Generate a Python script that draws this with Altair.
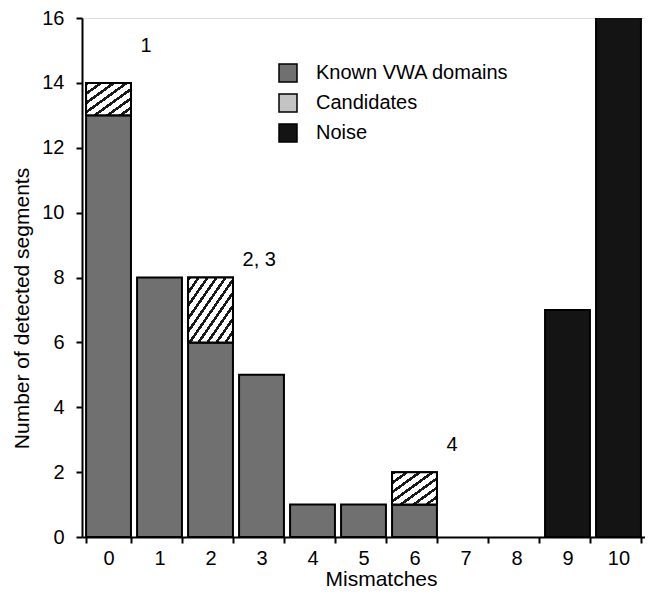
import altair as alt
import pandas as pd

mismatches = [0, 1, 2, 3, 4, 5, 6, 7, 8, 9, 10]
known = [13, 8, 6, 5, 1, 1, 1, 0, 0, 0, 0]
candidates = [1, 0, 2, 0, 0, 0, 1, 0, 0, 0, 0]
noise = [0, 0, 0, 0, 0, 0, 0, 0, 0, 7, 17]

ann_text = ["1", "2, 3", "4"]
ann_x = [0, 2, 6]
ann_y = [15.14, 8.54, 2.83]

types = ["Known VWA domains", "Candidates", "Noise"]
colors = ["#707070", "#c4c4c4", "#141414"]

rows = []
for m, k, c, n in zip(mismatches, known, candidates, noise):
    if k > 0:
        rows.append({"m": str(m), "type": types[0], "y0": 0, "y1": k, "h": k})
    if c > 0:
        rows.append({"m": str(m), "type": types[1], "y0": k, "y1": k + c, "h": c})
    if n > 0:
        rows.append({"m": str(m), "type": types[2], "y0": 0, "y1": n, "h": n})
df = pd.DataFrame(rows)
ann = pd.DataFrame({"m": [str(v) for v in ann_x], "y": ann_y, "t": ann_text})

FONT = "Liberation Sans"
FS = 20
cats = [str(v) for v in mismatches]

xenc = alt.X("m:O", sort=cats, scale=alt.Scale(domain=cats, paddingInner=0.12, paddingOuter=0.08),
             axis=alt.Axis(title="Mismatches", labelAngle=0, tickBand="extent", tickSize=6,
                           tickWidth=2, domainWidth=2, domainColor="black", tickColor="black",
                           labelFontSize=FS, labelPadding=5, titleFontSize=21,
                           titlePadding=0, titleX=299, titleFontWeight="normal",
                           labelColor="black", titleColor="black", grid=False))
yscale = alt.Scale(domain=[0, 16], nice=False)
yaxis = alt.Axis(title="Number of detected segments", values=list(range(17)),
                 labelExpr="datum.value % 2 == 0 ? datum.label : ''",
                 tickSize=6, tickWidth=2, domainWidth=2, domainColor="black", tickColor="black",
                 labelFontSize=FS, labelPadding=12, titleFontSize=21, titlePadding=9,
                 titleY=290, titleFontWeight="normal", labelColor="black",
                 titleColor="black", grid=False)

bars = alt.Chart(df).mark_bar(stroke="black", strokeWidth=2, clip=True).encode(
    x=xenc,
    y=alt.Y("y0:Q", scale=yscale, axis=yaxis),
    y2="y1:Q",
    color=alt.Color("type:N", scale=alt.Scale(domain=types, range=colors),
                    legend=alt.Legend(title=None, orient="none", legendX=196, legendY=45,
                                      symbolType="square", symbolSize=324,
                                      symbolStrokeColor="black", symbolStrokeWidth=1.5,
                                      labelFontSize=FS, labelOffset=18, rowPadding=6,
                                      labelLimit=400, labelColor="black", padding=0)),
)


def hatch(n):
    stops = []
    for i in range(n):
        a = i / n
        b = (i + 0.35) / n
        e = (i + 1) / n
        stops += [{"offset": a, "color": "#1a1a1a"}, {"offset": b, "color": "#1a1a1a"},
                  {"offset": b, "color": "#ffffff"}, {"offset": e, "color": "#ffffff"}]
    return {"gradient": "linear", "x1": 0, "y1": 0, "x2": 1, "y2": 1, "stops": stops}


hatch1 = alt.Chart(df).transform_filter(
    (alt.datum.type == types[1]) & (alt.datum.h == 1)
).mark_bar(fill=hatch(7), stroke="black", strokeWidth=2).encode(
    x=alt.X("m:O", sort=cats), y=alt.Y("y0:Q", scale=yscale), y2="y1:Q")

hatch2 = alt.Chart(df).transform_filter(
    (alt.datum.type == types[1]) & (alt.datum.h == 2)
).mark_bar(fill=hatch(10), stroke="black", strokeWidth=2).encode(
    x=alt.X("m:O", sort=cats), y=alt.Y("y0:Q", scale=yscale), y2="y1:Q")

texts = alt.Chart(ann).mark_text(align="left", baseline="middle", dx=32, fontSize=FS,
                                 font=FONT, color="black").encode(
    x=alt.X("m:O", sort=cats), y=alt.Y("y:Q", scale=yscale), text="t:N")

chart = alt.layer(bars, hatch1, hatch2, texts).properties(
    width=563, height=519,
    autosize=alt.AutoSizeParams(type="none"),
    padding={"left": 74, "top": 10, "right": 0, "bottom": 55},
    background="white",
).configure_view(stroke="black", strokeWidth=1.5).configure(font=FONT)

chart.save("out.html", embed_options={"renderer": "svg", "actions": False})
